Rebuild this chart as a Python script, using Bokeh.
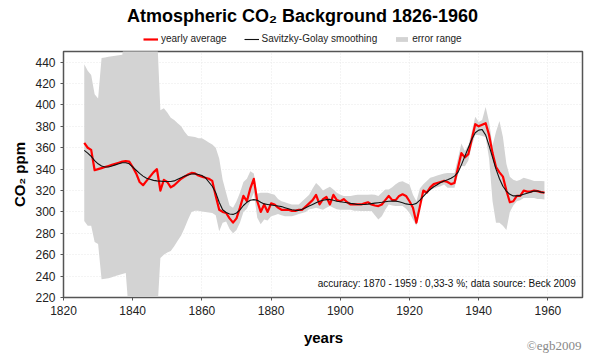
from bokeh.plotting import figure
from bokeh.layouts import column
from bokeh.models import Legend, LegendItem, Label, Range1d, FixedTicker
from bokeh.embed import file_html
from bokeh.resources import INLINE

years = list(range(1826, 1960))

yearly_avg = [
    364.5, 360, 358, 339, 340, 341, 342, 343, 344, 345,      # 1826-1835
    346, 347, 347.5, 347, 342, 336, 328, 325, 329, 333,      # 1836-1845
    337, 340, 320, 330, 328, 323, 325, 328, 331, 333,        # 1846-1855
    335, 336.5, 336, 334, 333, 332, 331, 329, 315, 302,      # 1856-1865
    300, 299, 294, 290, 294, 304, 315, 310, 322, 331,        # 1866-1875
    310, 300, 307, 300, 308, 307, 304, 302, 302, 302,        # 1876-1885
    301, 301, 302, 302, 305, 308, 311, 316, 307, 312,        # 1886-1895
    314, 307, 316, 311, 310, 312, 309, 307, 307, 307,        # 1896-1905
    307, 308, 309, 307, 306, 305.5, 307, 311, 315, 311,      # 1906-1915
    311, 315, 316.5, 315, 310, 304, 290, 305, 320, 318,      # 1916-1925
    323, 326, 327, 328, 329, 328, 326, 327, 341, 355,        # 1926-1935
    351, 354, 368, 382, 380, 381.5, 383, 372, 355, 342,      # 1936-1945
    337, 333, 320, 309, 310, 315, 315, 320, 319, 319,        # 1946-1955
    320, 319.5, 318.5, 318,                                  # 1956-1959
]

smoothing = [
    357.5, 355, 352, 348, 345, 343, 342, 342, 343, 344,
    345, 346, 346, 345, 342, 339, 336, 333.5, 331.5, 330.5,
    329.5, 329, 328.8, 328.5, 328.5, 328.5, 329, 330.5, 332, 333.5,
    334.5, 335.5, 335.6, 335, 334, 332, 328, 324, 318, 309,
    302, 299.5, 298, 297.7, 299, 302, 306, 309, 311, 311.5,
    311, 309, 307.5, 307, 306.5, 306, 305.5, 305, 304, 303,
    302, 301.5, 301.5, 302.5, 304, 305.5, 307, 308.5, 310, 311,
    311.5, 311.7, 311, 310, 309.5, 309, 308.6, 308, 307.5, 307,
    307, 307, 307.3, 307.8, 308.2, 308.6, 309, 309.5, 310, 310.1,
    310.1, 309.5, 308.5, 307.5, 307, 307, 308, 311, 314.5, 318,
    321, 323.5, 325.5, 327.5, 329, 330, 331.5, 333.5, 337, 344,
    352, 360, 368, 374, 376.5, 377, 372, 362, 351, 340,
    331, 324, 319.5, 316.5, 315, 315, 315.5, 316.5, 317.5, 318.5,
    319.5, 319.5, 318.5, 318,
]

err_upper = [
    438, 432, 428, 410, 406, 444, 444.5, 445, 445.5, 446,
    446.5, 447, 470, 470, 470, 470, 470, 470, 470, 470,
    470, 470, 395, 397, 393, 388, 386, 383, 380, 375,
    371, 370.5, 370, 369, 369, 367, 365, 363, 360, 350,
    330, 318, 306, 304, 310, 318, 328, 331, 338, 336,
    317, 318, 318, 318, 317, 316, 312, 310, 309, 308,
    307, 307, 307, 310, 313, 316, 322, 327, 324, 320,
    322, 323.5, 321, 318, 316, 315, 314.8, 315, 315.5, 316,
    316, 316, 316, 316.4, 316, 315, 318, 321, 321, 323,
    326, 328, 328.8, 327, 325.7, 316, 310, 322, 326, 329,
    332, 333, 334, 335, 336, 336.5, 336.5, 336.5, 350, 364,
    357, 362, 375, 389, 384, 386, 398, 384, 362, 375,
    385, 370, 345, 333, 330, 329, 330, 332, 331, 330,
    329, 329, 329, 328.8,
]

err_lower = [
    291.5, 287, 287, 272, 270, 237, 237.5, 238, 239, 240,
    241, 242, 243, 200, 200, 200, 200, 200, 200, 200,
    200, 200, 257, 260, 262, 263.5, 268, 273, 278, 285,
    293, 300, 301, 301, 300.5, 300, 299.5, 299, 297, 282,
    290, 291, 284, 280, 283, 290, 300, 303, 310, 318,
    294.6, 288.4, 293, 292, 296, 297, 298, 297, 296, 296,
    296, 297, 298, 299, 300, 302.4, 303, 304, 303, 302,
    304, 305.5, 304, 302.4, 302, 302, 302, 302, 301, 301,
    300.8, 300.8, 300.8, 300.8, 297, 293, 296, 302, 307, 306,
    305.5, 305.5, 305.5, 303, 299, 293, 287, 312, 316, 318,
    321, 322, 323, 324, 325.6, 322.5, 322.5, 322.5, 335, 343,
    342.8, 348, 362, 372, 372, 371, 370, 350, 310, 290,
    290, 287, 283, 300, 306, 310, 311, 313, 313, 313,
    313, 312, 312, 311.7,
]

x_ticks = [1820, 1840, 1860, 1880, 1900, 1920, 1940, 1960]
y_ticks = [220, 240, 260, 280, 300, 320, 340, 360, 380, 400, 420, 440]

title_text = "Atmospheric CO\u2082 Background 1826-1960"
y_label = "CO\u2082 ppm"
x_label = "years"
note_text = "accuracy: 1870 - 1959 : 0,33-3 %; data source:  Beck 2009"
credit_text = "\u00a9egb2009"
legend_labels = ["yearly average", "Savitzky-Golay smoothing", "error range"]

FONT = "Liberation Sans"
RED = "#ff0000"
BLACK = "#111111"
GREY = "#d3d3d3"


def blank_fig(h):
    f = figure(width=600, height=h, output_backend="svg", toolbar_location=None,
               x_range=Range1d(0, 600), y_range=Range1d(0, h),
               x_axis_type=None, y_axis_type=None,
               min_border=0, min_border_left=0, min_border_right=0,
               min_border_top=0, min_border_bottom=0,
               background_fill_color="white", border_fill_color="white")
    f.outline_line_color = None
    f.grid.visible = False
    return f


# ---------- header: title + legend (legend keys reuse the data, out of view) ----------
header = blank_fig(49)
k_band = header.varea(x=years, y1=err_lower, y2=err_upper, fill_color=GREY)
k_red = header.line(x=years, y=yearly_avg, line_color=RED, line_width=2.2)
k_blk = header.line(x=years, y=smoothing, line_color=BLACK, line_width=1.1)
header.add_layout(Label(x=239, y=34, x_units="screen", y_units="screen", text=title_text,
                        text_font=FONT, text_font_style="bold", text_font_size="18px",
                        text_align="center", text_baseline="middle", text_color="#000000"))
legend = Legend(items=[
    LegendItem(label=legend_labels[0], renderers=[k_red]),
    LegendItem(label=legend_labels[1], renderers=[k_blk]),
    LegendItem(label=legend_labels[2], renderers=[k_band]),
], orientation="horizontal", location=(80, 5))
legend.label_text_font = FONT
legend.label_text_font_size = "10px"
legend.label_text_color = "#222222"
legend.glyph_width = 15
legend.glyph_height = 6
legend.label_standoff = 3
legend.spacing = 17
legend.padding = 0
legend.margin = 0
legend.border_line_color = None
legend.background_fill_alpha = 0
header.add_layout(legend)

# ---------- main plot ----------
p = figure(width=600, height=273, output_backend="svg", toolbar_location=None,
           x_range=Range1d(1820, 1970), y_range=Range1d(220, 450),
           min_border_left=63, min_border_right=18, min_border_top=2, min_border_bottom=25,
           background_fill_color="white", border_fill_color="white")
p.outline_line_color = "#555555"
p.outline_line_width = 1.5

p.varea(x=years, y1=err_lower, y2=err_upper, fill_color=GREY)
p.line(years, yearly_avg, line_color=RED, line_width=2.2, line_join="round")
p.line(years, smoothing, line_color=BLACK, line_width=1.1)

for ax in (p.xaxis[0], p.yaxis[0]):
    ax.axis_line_color = "#555555"
    ax.major_tick_line_color = "#555555"
    ax.major_tick_in = 0
    ax.major_tick_out = 3
    ax.minor_tick_line_color = None
    ax.major_label_text_font = FONT
    ax.major_label_text_font_size = "12px"
    ax.major_label_text_color = "#222222"
    ax.axis_label_text_font = FONT
    ax.axis_label_text_font_style = "bold"
    ax.axis_label_text_font_size = "15px"
    ax.axis_label_text_color = "#000000"

p.xaxis.ticker = FixedTicker(ticks=x_ticks)
p.yaxis.ticker = FixedTicker(ticks=y_ticks)
p.yaxis.axis_label = y_label
p.yaxis.axis_label_standoff = 4

p.grid.grid_line_color = "#e8e8e8"
p.grid.grid_line_dash = "1 2"
p.xgrid.ticker = FixedTicker(ticks=x_ticks)
p.ygrid.ticker = FixedTicker(ticks=y_ticks)

p.add_layout(Label(x=515, y=14, x_units="screen", y_units="screen", text=note_text,
                   text_font=FONT, text_font_size="10px", text_align="right",
                   text_baseline="middle", text_color="#111111"))

# ---------- footer: x-axis title + credit ----------
footer = blank_fig(35)
footer.add_layout(Label(x=260, y=20, x_units="screen", y_units="screen", text=x_label,
                        text_font=FONT, text_font_style="bold", text_font_size="15px",
                        text_align="center", text_baseline="middle", text_color="#000000"))
footer.add_layout(Label(x=518, y=12, x_units="screen", y_units="screen", text=credit_text,
                        text_font="Liberation Serif", text_font_size="13px", text_align="right",
                        text_baseline="middle", text_color="#888888"))

layout = column(header, p, footer, spacing=0)
open("out.html", "w").write(file_html(layout, INLINE))
